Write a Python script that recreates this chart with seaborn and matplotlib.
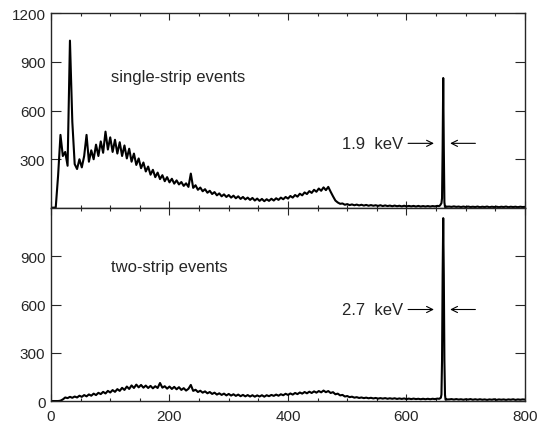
import numpy as np
import pandas as pd
import matplotlib
matplotlib.use("Agg")
import matplotlib.pyplot as plt
import seaborn as sns
from matplotlib.ticker import MultipleLocator

# energy grid (keV) for the continuum, 4 keV steps
kev_grid = np.arange(0, 801, 4)

# single-strip events, counts per bin
single_counts = [
    2, 2, 3, 200, 450, 320, 345, 260, 1030, 530,
    270, 240, 300, 250, 320, 450, 285, 355, 300, 390,
    320, 410, 340, 470, 360, 435, 345, 420, 335, 405,
    320, 385, 305, 365, 285, 335, 265, 305, 245, 280,
    225, 255, 205, 235, 190, 218, 178, 202, 165, 190,
    158, 180, 150, 170, 145, 160, 136, 152, 130, 212,
    124, 140, 112, 126, 103, 116, 94, 106, 86, 98,
    78, 90, 72, 84, 68, 80, 64, 76, 60, 72,
    56, 68, 53, 64, 50, 62, 46, 58, 44, 56,
    42, 54, 44, 57, 46, 60, 50, 64, 54, 68,
    58, 74, 64, 80, 70, 88, 78, 96, 86, 104,
    93, 112, 100, 120, 106, 127, 110, 130, 100, 72,
    46, 34, 26, 28, 20, 24, 18, 22, 17, 21,
    16, 20, 15, 19, 14, 18, 14, 17, 13, 17,
    12, 16, 12, 15, 11, 15, 11, 14, 10, 14,
    10, 13, 10, 13, 9, 13, 9, 12, 9, 12,
    9, 12, 10, 13, 12, 10, 10, 9, 9, 7,
    10, 7, 9, 6, 9, 6, 9, 6, 8, 6,
    9, 5, 8, 6, 9, 5, 8, 6, 8, 5,
    8, 6, 9, 5, 8, 6, 8, 5, 8, 6,
    7,
]

# two-strip events
two_counts = [
    0, 0, 0, 0, 2, 10, 22, 18, 26, 20,
    28, 22, 33, 26, 37, 29, 41, 33, 46, 37,
    51, 43, 57, 47, 63, 53, 68, 57, 74, 63,
    82, 69, 90, 75, 97, 81, 102, 85, 100, 83,
    96, 81, 94, 79, 92, 81, 112, 83, 92, 77,
    90, 75, 88, 73, 86, 69, 80, 65, 76, 100,
    63, 70, 56, 64, 52, 60, 48, 56, 44, 52,
    40, 48, 38, 46, 35, 44, 34, 42, 32, 40,
    30, 38, 29, 37, 28, 36, 27, 35, 28, 36,
    27, 36, 30, 38, 32, 40, 33, 42, 36, 45,
    38, 47, 40, 50, 43, 53, 46, 56, 48, 58,
    50, 60, 52, 62, 54, 65, 55, 62, 50, 55,
    42, 46, 35, 38, 28, 31, 24, 27, 21, 24,
    19, 22, 18, 21, 17, 20, 16, 19, 15, 18,
    15, 18, 14, 17, 14, 17, 13, 16, 13, 16,
    12, 15, 12, 15, 12, 14, 11, 14, 11, 14,
    11, 14, 12, 15, 14, 12, 11, 13, 10, 12,
    9, 12, 9, 11, 8, 11, 9, 12, 8, 11,
    8, 11, 8, 10, 7, 10, 8, 11, 7, 10,
    8, 10, 7, 10, 8, 11, 7, 10, 8, 10,
    9,
]

# 662 keV line, 1 keV bins
peak_kev = [655, 656, 657, 658, 659, 660, 661, 662, 663, 664, 665, 666, 667, 668, 669]
single_peak = [12, 14, 18, 24, 30, 60, 367, 800, 367, 36, 6, 9, 7, 9, 8]
two_peak = [14, 15, 18, 20, 40, 251, 779, 1137, 779, 251, 38, 8, 10, 9, 10]


def spectrum(counts, peak):
    df = pd.DataFrame({'kev': kev_grid, 'counts': counts})
    df = df[(df.kev < peak_kev[0]) | (df.kev > peak_kev[-1])]
    pk = pd.DataFrame({'kev': peak_kev, 'counts': peak})
    return pd.concat([df, pk]).sort_values('kev')


sns.set_style("ticks")
plt.rcParams['font.family'] = ['Liberation Sans', 'DejaVu Sans']
plt.rcParams['font.size'] = 11

fig = plt.figure(figsize=(5.39, 4.27), dpi=100)
ax1 = fig.add_axes([0.0946, 0.5105, 0.8794, 0.4567])
ax2 = fig.add_axes([0.0946, 0.0585, 0.8794, 0.452])

panels = [
    (ax1, spectrum(single_counts, single_peak), 'single-strip events', 808, '1.9  keV', 398, [300, 600, 900, 1200]),
    (ax2, spectrum(two_counts, two_peak), 'two-strip events', 837, '2.7  keV', 569, [0, 300, 600, 900]),
]

for ax, df, label, ly, fwhm, hy, yt in panels:
    sns.lineplot(data=df, x='kev', y='counts', ax=ax, color='black',
                 linewidth=1.5, estimator=None, sort=False)
    ax.set_xlim(0, 800)
    ax.set_ylim(0, 1200)
    ax.set_yticks(yt)
    ax.xaxis.set_major_locator(MultipleLocator(200))
    ax.xaxis.set_minor_locator(MultipleLocator(50))
    ax.tick_params(axis='x', which='major', direction='in', top=True, length=5, width=0.8)
    ax.tick_params(axis='x', which='minor', direction='in', top=True, length=2.5, width=0.8)
    ax.tick_params(axis='y', direction='in', right=True, length=7, width=0.8, labelsize=11, pad=4)
    ax.set_xlabel('')
    ax.set_ylabel('')
    for s in ax.spines.values():
        s.set_linewidth(1.0)
    ax.text(101, ly, label, ha='left', va='center', fontsize=12)
    ax.text(594, hy, fwhm, ha='right', va='center', fontsize=12)
    ax.annotate('', xy=(651, hy), xytext=(598, hy),
                arrowprops=dict(arrowstyle='->', lw=0.8, color='black'))
    ax.annotate('', xy=(669, hy), xytext=(721, hy),
                arrowprops=dict(arrowstyle='->', lw=0.8, color='black'))

ax1.tick_params(axis='x', labelbottom=False)
ax2.tick_params(axis='x', labelsize=11, pad=6)

fig.savefig('out.png', dpi=100)
